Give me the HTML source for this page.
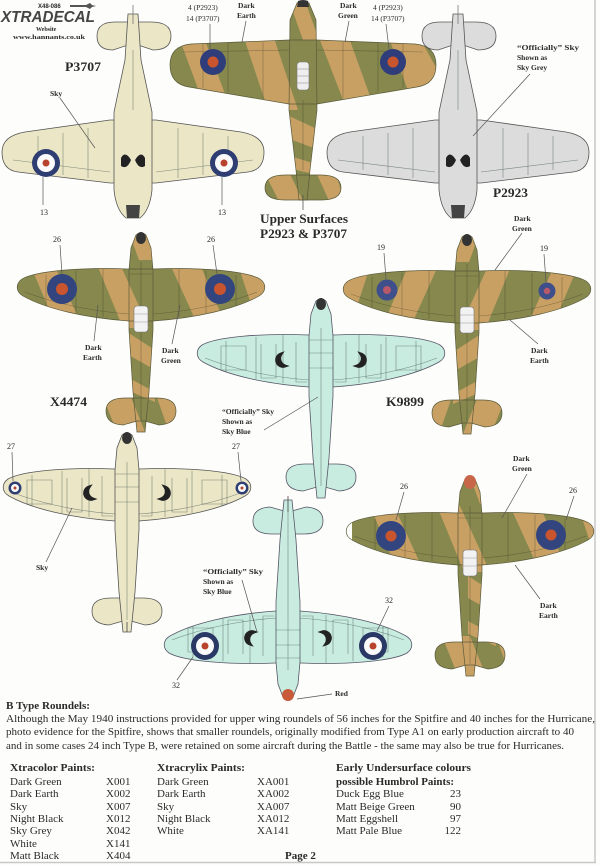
<!DOCTYPE html>
<html><head><meta charset="utf-8"><style>
html,body{margin:0;padding:0;background:#fdfdfb;}
svg{display:block}
text{font-family:"Liberation Serif",serif;fill:#2a2a2a}
.l{font-size:7.5px;font-weight:bold}
.n{font-size:8px}
.t{font-size:12.5px;font-weight:bold}
.p{font-size:10.5px}
.q{font-size:11px}
.ld{stroke:#555;stroke-width:0.7;fill:none}
.pl{stroke:rgba(50,50,30,0.45);stroke-width:0.6;fill:none}
.ul{stroke:rgba(40,60,60,0.55);stroke-width:0.6;fill:none}
</style></head><body>
<svg width="600" height="865" viewBox="0 0 600 865" xmlns="http://www.w3.org/2000/svg">
<defs>
<path id="sw" d="M-12,37 C-60,35 -105,39 -119,47 C-126,52 -125,60 -118,64 C-95,77 -55,86 -12,89 L12,89 C55,86 95,77 118,64 C125,60 126,52 119,47 C105,39 60,35 12,37 Z"/>
<path id="sf" d="M-5,3 Q0,-1 5,3 L10,16 L12,38 L12,98 L8,160 L4,200 L-4,200 L-8,160 L-12,98 L-12,38 L-10,16 Z"/>
<path id="st" d="M-35,179 Q-35,166 -16,166 L16,166 Q35,166 35,179 Q35,192 18,193 L4,189 L-4,189 L-18,193 Q-35,192 -35,179 Z"/>
<path id="hw" d="M-23,120 L-108,132 Q-131,136 -131,152 Q-131,170 -115,172 L-23,183 L23,183 L115,172 Q131,170 131,152 Q131,136 108,132 L23,120 Z"/>
<path id="hf" d="M-5,14 L5,14 L8,60 L19,112 L19,190 Q17,210 7,218 L-7,218 Q-17,210 -19,190 L-19,112 L-8,60 Z"/>
<path id="ht" d="M-36,36 Q-36,22 -18,22 L18,22 Q38,22 38,36 Q38,50 20,50 L5,45 L-5,45 L-20,50 Q-36,50 -36,36 Z"/>
<path id="cw" d="M-14,40 L-112,44 Q-133,46 -133,65 Q-133,84 -114,87 L-14,104 L14,104 L114,87 Q133,84 133,65 Q133,46 112,44 L14,40 Z"/>
<path id="cf" d="M-6,3 Q0,0 6,3 L13,20 L14,110 L7,170 L4,200 L-4,200 L-7,170 L-14,110 L-13,20 Z"/>
<path id="ct" d="M-38,188 Q-38,175 -18,175 L18,175 Q38,175 38,188 Q38,200 18,200 L-18,200 Q-38,200 -38,188 Z"/>
<clipPath id="clS"><use href="#sw"/><use href="#sf"/><use href="#st"/></clipPath>
<clipPath id="clC"><use href="#cw"/><use href="#cf"/><use href="#ct"/></clipPath>
<g id="camoS">
<rect x="-130" y="-5" width="260" height="210" fill="#86884e"/>
<g fill="#c9a064">
<polygon points="-112,30 -88,30 -58,96 -84,96"/>
<polygon points="-45,30 -22,30 8,96 -18,96"/>
<polygon points="28,30 58,30 86,96 58,96"/>
<polygon points="96,30 130,30 130,96 118,96"/>
<polygon points="-14,-5 2,-5 14,28 -2,28"/>
<polygon points="-14,100 14,118 14,138 -14,122"/>
<polygon points="-14,145 14,160 14,170 -14,158"/>
<polygon points="-40,160 -12,160 4,200 -24,200"/>
<polygon points="14,160 40,160 40,200 28,200"/>
</g>
</g>
<g id="camoC">
<rect x="-140" y="-5" width="280" height="210" fill="#86884e"/>
<g fill="#c9a064">
<polygon points="-125,35 -100,35 -72,110 -97,110"/>
<polygon points="-60,35 -30,35 -5,110 -35,110"/>
<polygon points="15,35 45,35 72,110 44,110"/>
<polygon points="85,35 115,35 140,80 140,110 112,110"/>
<polygon points="-16,-5 0,-5 16,40 0,40"/>
<polygon points="-16,115 16,130 16,150 -16,138"/>
<polygon points="-16,155 16,165 16,175 -16,168"/>
<polygon points="-40,170 -15,170 2,205 -22,205"/>
<polygon points="12,170 32,170 42,205 28,205"/>
</g>
</g>
<g id="panS">
<path d="M-116,60 C-80,74 -40,80 -12,82 M116,60 C80,74 40,80 12,82 M-95,43 L-95,74 M-65,39 L-65,81 M-38,37 L-38,85 M38,37 L38,85 M65,39 L65,81 M95,43 L95,74 M0,30 L0,188 M-12,42 L12,42"/>
</g>
<g id="panH">
<path d="M-120,160 L-23,172 M120,160 L23,172 M-95,136 L-95,170 M-70,133 L-70,175 M-45,128 L-45,178 M45,128 L45,178 M70,133 L70,175 M95,136 L95,170 M0,50 L0,110"/>
</g>
<g id="panC">
<path d="M-120,52 L-14,50 M120,52 L14,50 M-100,44 L-100,88 M-75,43 L-75,92 M-40,42 L-40,98 M40,42 L40,98 M75,43 L75,92 M100,44 L100,88 M0,100 L0,170"/>
</g>
</defs>

<!-- page border -->
<line x1="595" y1="0" x2="595" y2="863" stroke="#c8c8c8" stroke-width="1.5"/>
<line x1="0" y1="862.5" x2="596" y2="862.5" stroke="#c8c8c8" stroke-width="1.5"/>

<!-- header logo -->
<text x="38" y="8" style="font-size:6px;font-weight:bold;font-family:'Liberation Sans',sans-serif">X48-086</text>
<path d="M70,5 L86,5 L90,3 L92,5 L96,6 L92,7 L90,9 L86,7 L70,7 Z" fill="#555"/>
<text x="1" y="22" textLength="94" lengthAdjust="spacingAndGlyphs" style="font-size:16px;font-weight:bold;font-style:italic;font-family:'Liberation Sans',sans-serif;fill:#444">XTRADECAL</text>
<text x="36" y="31" style="font-size:6px;font-weight:bold">Website</text>
<text x="13" y="39" textLength="72" lengthAdjust="spacingAndGlyphs" style="font-size:6px;font-weight:bold">www.hannants.co.uk</text>

<!-- P3707 Hurricane underside (Sky) -->
<g transform="translate(133,0)" stroke="#555" stroke-width="0.8">
<use href="#ht" fill="#ebe6c6"/>
<use href="#hw" fill="#ebe6c6"/>
<use href="#hf" fill="#ebe6c6"/>
<g class="ul"><use href="#panH"/></g>
<path d="M-7,205 L7,205 L6,218 L-6,218 Z" fill="#444" stroke="none"/>
<path d="M-12,158 Q-8,150 -2,160 Q-6,170 -12,166 Z M12,158 Q8,150 2,160 Q6,170 12,166 Z" fill="#222" stroke="none"/>
<line x1="0" y1="5" x2="0" y2="24" stroke="#777"/>
</g>
<circle cx="46" cy="163" r="14" fill="#2f3e72"/><circle cx="46" cy="163" r="9" fill="#fafafa"/><circle cx="46" cy="163" r="3.5" fill="#b8432c"/>
<circle cx="224" cy="163" r="14" fill="#2f3e72"/><circle cx="224" cy="163" r="9" fill="#fafafa"/><circle cx="224" cy="163" r="3.5" fill="#b8432c"/>
<text x="65" y="71" class="t" textLength="36" lengthAdjust="spacingAndGlyphs">P3707</text>
<text x="50" y="96" class="l">Sky</text>
<line x1="60" y1="98" x2="95" y2="148" class="ld"/>
<line x1="43" y1="177" x2="43" y2="205" class="ld"/>
<line x1="222" y1="177" x2="222" y2="205" class="ld"/>
<text x="40" y="215" class="n">13</text>
<text x="218" y="215" class="n">13</text>

<!-- Top camo Hurricane -->
<g transform="translate(303,0)">
<g clip-path="url(#clC)"><use href="#camoC"/></g>
<g class="pl"><use href="#panC"/></g>
<g fill="none" stroke="#5a5a3a" stroke-width="0.7"><use href="#ct"/><use href="#cw"/><use href="#cf"/></g>
<path d="M-5,1 Q0,-1 5,1 L6,7 L-6,7 Z" fill="#333"/>
<rect x="-6" y="62" width="12" height="28" rx="3" fill="#eeeeee" stroke="#777" stroke-width="0.6"/>
<path d="M-6,69 L6,69 M-6,76 L6,76 M-6,83 L6,83" stroke="#888" stroke-width="0.6"/>
<line x1="0" y1="195" x2="0" y2="210" stroke="#555" stroke-width="0.8"/>
</g>
<circle cx="213" cy="62" r="13" fill="#2f3e7a"/><circle cx="213" cy="62" r="5.5" fill="#c8552e"/>
<circle cx="393" cy="62" r="13" fill="#2f3e7a"/><circle cx="393" cy="62" r="5.5" fill="#c8552e"/>
<text x="188" y="10" class="l" style="font-weight:normal">4 (P2923)</text>
<text x="186" y="21" class="l" style="font-weight:normal">14 (P3707)</text>
<text x="238" y="8" class="l">Dark</text>
<text x="237" y="18" class="l">Earth</text>
<text x="340" y="8" class="l">Dark</text>
<text x="338" y="18" class="l">Green</text>
<text x="373" y="10" class="l" style="font-weight:normal">4 (P2923)</text>
<text x="371" y="21" class="l" style="font-weight:normal">14 (P3707)</text>
<line x1="210" y1="24" x2="210" y2="49" class="ld"/>
<line x1="246" y1="21" x2="242" y2="42" class="ld"/>
<line x1="349" y1="21" x2="345" y2="42" class="ld"/>
<line x1="386" y1="24" x2="389" y2="49" class="ld"/>
<text x="260" y="223" class="t" textLength="88" lengthAdjust="spacingAndGlyphs">Upper Surfaces</text>
<text x="260" y="238" class="t" textLength="87" lengthAdjust="spacingAndGlyphs">P2923 &amp; P3707</text>

<!-- P2923 Hurricane underside (Sky Grey) -->
<g transform="translate(458,0)" stroke="#555" stroke-width="0.8">
<use href="#ht" fill="#dcdcdc"/>
<use href="#hw" fill="#dcdcdc"/>
<use href="#hf" fill="#dcdcdc"/>
<g class="ul"><use href="#panH"/></g>
<path d="M-7,205 L7,205 L6,218 L-6,218 Z" fill="#444" stroke="none"/>
<path d="M-12,158 Q-8,150 -2,160 Q-6,170 -12,166 Z M12,158 Q8,150 2,160 Q6,170 12,166 Z" fill="#222" stroke="none"/>
<line x1="0" y1="5" x2="0" y2="24" stroke="#777"/>
</g>
<text x="517" y="50" class="l" textLength="62" lengthAdjust="spacingAndGlyphs">“Officially” Sky</text>
<text x="517" y="60" class="l">Shown as</text>
<text x="517" y="70" class="l">Sky Grey</text>
<line x1="530" y1="74" x2="473" y2="136" class="ld"/>
<text x="493" y="197" class="t" textLength="35" lengthAdjust="spacingAndGlyphs">P2923</text>

<!-- X4474 Spitfire camo -->
<g transform="translate(141,232)">
<g clip-path="url(#clS)"><use href="#camoS"/></g>
<g class="pl"><use href="#panS"/></g>
<g fill="none" stroke="#5a5a3a" stroke-width="0.7"><use href="#st"/><use href="#sw"/><use href="#sf"/></g>
<ellipse cx="0" cy="6" rx="5" ry="6" fill="#333"/>
<rect x="-7" y="74" width="14" height="26" rx="3" fill="#f2f2f2" stroke="#777" stroke-width="0.6"/>
<path d="M-7,82 L7,82 M-7,90 L7,90" stroke="#999" stroke-width="0.6"/>
</g>
<circle cx="62" cy="289" r="15" fill="#33457f"/><circle cx="62" cy="289" r="6" fill="#c8552e"/>
<circle cx="220" cy="289" r="15" fill="#33457f"/><circle cx="220" cy="289" r="6" fill="#c8552e"/>
<text x="53" y="242" class="n">26</text>
<text x="207" y="242" class="n">26</text>
<line x1="60" y1="245" x2="62" y2="274" class="ld"/>
<line x1="213" y1="245" x2="217" y2="274" class="ld"/>
<text x="85" y="350" class="l">Dark</text>
<text x="83" y="360" class="l">Earth</text>
<line x1="94" y1="341" x2="98" y2="305" class="ld"/>
<text x="162" y="353" class="l">Dark</text>
<text x="161" y="363" class="l">Green</text>
<line x1="172" y1="344" x2="180" y2="305" class="ld"/>
<text x="50" y="406" class="t" textLength="37" lengthAdjust="spacingAndGlyphs">X4474</text>

<!-- Right camo Spitfire (19) -->
<g transform="translate(467,234)">
<g clip-path="url(#clS)"><g transform="scale(-1,1)"><use href="#camoS"/></g></g>
<g class="pl"><use href="#panS"/></g>
<g fill="none" stroke="#5a5a3a" stroke-width="0.7"><use href="#st"/><use href="#sw"/><use href="#sf"/></g>
<ellipse cx="0" cy="6" rx="5" ry="6" fill="#333"/>
<rect x="-7" y="73" width="14" height="26" rx="3" fill="#f2f2f2" stroke="#777" stroke-width="0.6"/>
<path d="M-7,81 L7,81 M-7,89 L7,89" stroke="#999" stroke-width="0.6"/>
</g>
<circle cx="387" cy="290" r="10.5" fill="#3e4f8c"/><circle cx="387" cy="290" r="4" fill="#b85868"/>
<circle cx="547" cy="291" r="8.5" fill="#3e4f8c"/><circle cx="547" cy="291" r="3.2" fill="#b85868"/>
<text x="377" y="250" class="n">19</text>
<text x="540" y="251" class="n">19</text>
<line x1="384" y1="253" x2="386" y2="279" class="ld"/>
<line x1="544" y1="254" x2="546" y2="282" class="ld"/>
<text x="514" y="221" class="l">Dark</text>
<text x="512" y="231" class="l">Green</text>
<line x1="522" y1="233" x2="495" y2="270" class="ld"/>
<text x="531" y="353" class="l">Dark</text>
<text x="530" y="363" class="l">Earth</text>
<line x1="538" y1="344" x2="510" y2="320" class="ld"/>

<!-- K9899 Spitfire underside (Sky Blue) -->
<g transform="translate(321,298)" stroke="#556" stroke-width="0.8">
<use href="#st" fill="#c9ece0"/>
<use href="#sw" fill="#c9ece0"/>
<use href="#sf" fill="#c9ece0"/>
<g class="ul"><use href="#panS"/>
<path d="M-100,48 L-100,72 L-75,72 L-75,48 Z M100,48 L100,72 L75,72 L75,48 Z M-60,46 L-60,80 L-45,80 L-45,46 M60,46 L60,80 L45,80 L45,46 M-25,44 L-25,84 L-14,84 M25,44 L25,84 L14,84 M-12,55 L12,55 M-12,70 L12,70"/></g>
<ellipse cx="0" cy="6" rx="5" ry="6" fill="#333" stroke="none"/>
<path d="M-40,56 A6,6 0 0 0 -36,68 A8,8 0 0 1 -40,56 Z M40,56 A6,6 0 0 1 36,68 A8,8 0 0 0 40,56 Z" fill="#222" stroke="#222" stroke-width="3"/>
</g>
<text x="222" y="414" class="l" textLength="52" lengthAdjust="spacingAndGlyphs">“Officially” Sky</text>
<text x="222" y="424" class="l">Shown as</text>
<text x="222" y="434" class="l">Sky Blue</text>
<line x1="264" y1="430" x2="318" y2="397" class="ld"/>
<text x="386" y="406" class="t" textLength="38" lengthAdjust="spacingAndGlyphs">K9899</text>

<!-- Sky Spitfire underside (bottom-left) -->
<g transform="translate(127,432)" stroke="#555" stroke-width="0.8">
<use href="#st" fill="#ebe6c6"/>
<use href="#sw" fill="#ebe6c6"/>
<use href="#sf" fill="#ebe6c6"/>
<g class="ul"><use href="#panS"/>
<path d="M-100,48 L-100,72 L-75,72 L-75,48 Z M100,48 L100,72 L75,72 L75,48 Z M-60,46 L-60,80 L-45,80 L-45,46 M60,46 L60,80 L45,80 L45,46 M-25,44 L-25,84 L-14,84 M25,44 L25,84 L14,84 M-12,55 L12,55 M-12,70 L12,70"/></g>
<ellipse cx="0" cy="6" rx="5" ry="6" fill="#333" stroke="none"/>
<path d="M-38,55 A6,6 0 0 0 -34,67 A8,8 0 0 1 -38,55 Z M38,55 A6,6 0 0 1 34,67 A8,8 0 0 0 38,55 Z" fill="#222" stroke="#222" stroke-width="3"/>
<line x1="0" y1="190" x2="0" y2="200" stroke="#444"/>
</g>
<circle cx="15" cy="488" r="6.5" fill="#2f3e72"/><circle cx="15" cy="488" r="4" fill="#fafafa"/><circle cx="15" cy="488" r="1.5" fill="#b8432c"/>
<circle cx="242" cy="488" r="6.5" fill="#2f3e72"/><circle cx="242" cy="488" r="4" fill="#fafafa"/><circle cx="242" cy="488" r="1.5" fill="#b8432c"/>
<text x="7" y="449" class="n">27</text>
<text x="232" y="449" class="n">27</text>
<line x1="12" y1="452" x2="13" y2="481" class="ld"/>
<line x1="238" y1="452" x2="241" y2="481" class="ld"/>
<text x="36" y="570" class="l">Sky</text>
<line x1="46" y1="562" x2="72" y2="508" class="ld"/>

<!-- Bottom-centre Spitfire underside (tail up) -->
<g transform="translate(288,700) rotate(180)" stroke="#556" stroke-width="0.8">
<use href="#st" fill="#c9ece0"/>
<use href="#sw" fill="#c9ece0"/>
<use href="#sf" fill="#c9ece0"/>
<g class="ul"><use href="#panS"/>
<path d="M-100,48 L-100,72 L-75,72 L-75,48 Z M100,48 L100,72 L75,72 L75,48 Z M-60,46 L-60,80 L-45,80 L-45,46 M60,46 L60,80 L45,80 L45,46 M-25,44 L-25,84 L-14,84 M25,44 L25,84 L14,84 M-12,55 L12,55 M-12,70 L12,70"/></g>
<ellipse cx="0" cy="5" rx="6" ry="6" fill="#c85a3a" stroke="none"/>
<path d="M-38,56 A6,6 0 0 0 -34,68 A8,8 0 0 1 -38,56 Z M38,56 A6,6 0 0 1 34,68 A8,8 0 0 0 38,56 Z" fill="#222" stroke="#222" stroke-width="3"/>
<line x1="0" y1="188" x2="0" y2="204" stroke="#444"/>
</g>
<circle cx="205" cy="646" r="14" fill="#2a3866"/><circle cx="205" cy="646" r="9" fill="#fafafa"/><circle cx="205" cy="646" r="3.5" fill="#b8432c"/>
<circle cx="373" cy="646" r="14" fill="#2a3866"/><circle cx="373" cy="646" r="9" fill="#fafafa"/><circle cx="373" cy="646" r="3.5" fill="#b8432c"/>
<text x="203" y="574" class="l" textLength="60" lengthAdjust="spacingAndGlyphs">“Officially” Sky</text>
<text x="203" y="584" class="l">Shown as</text>
<text x="203" y="594" class="l">Sky Blue</text>
<line x1="242" y1="580" x2="257" y2="632" class="ld"/>
<text x="172" y="688" class="n">32</text>
<line x1="177" y1="680" x2="193" y2="657" class="ld"/>
<text x="385" y="603" class="n">32</text>
<line x1="389" y1="606" x2="377" y2="631" class="ld"/>
<text x="335" y="696" class="l">Red</text>
<line x1="332" y1="694" x2="297" y2="699" class="ld"/>

<!-- Bottom-right camo Spitfire (26) -->
<g transform="translate(470,476)">
<g clip-path="url(#clS)"><g transform="translate(12,0)"><use href="#camoS"/></g></g>
<g class="pl"><use href="#panS"/></g>
<g fill="none" stroke="#5a5a3a" stroke-width="0.7"><use href="#st"/><use href="#sw"/><use href="#sf"/></g>
<ellipse cx="0" cy="6" rx="6" ry="7" fill="#c8664a"/>
<rect x="-7" y="74" width="14" height="26" rx="3" fill="#f2f2f2" stroke="#777" stroke-width="0.6"/>
<path d="M-7,82 L7,82 M-7,90 L7,90" stroke="#999" stroke-width="0.6"/>
</g>
<circle cx="391" cy="536" r="15" fill="#33457f"/><circle cx="391" cy="536" r="5.5" fill="#c8552e"/>
<circle cx="551" cy="535" r="15" fill="#33457f"/><circle cx="551" cy="535" r="5.5" fill="#c8552e"/>
<text x="400" y="489" class="n">26</text>
<text x="569" y="493" class="n">26</text>
<line x1="404" y1="492" x2="396" y2="520" class="ld"/>
<line x1="574" y1="496" x2="566" y2="520" class="ld"/>
<text x="513" y="461" class="l">Dark</text>
<text x="512" y="471" class="l">Green</text>
<line x1="527" y1="474" x2="502" y2="518" class="ld"/>
<text x="540" y="608" class="l">Dark</text>
<text x="539" y="618" class="l">Earth</text>
<line x1="540" y1="599" x2="515" y2="565" class="ld"/>

<!-- Text block -->
<text x="6" y="709" class="q" style="font-weight:bold" textLength="84" lengthAdjust="spacingAndGlyphs">B Type Roundels:</text>
<text x="6" y="722" class="p" textLength="589" lengthAdjust="spacingAndGlyphs">Although the May 1940 instructions provided for upper wing roundels of 56 inches for the Spitfire and 40 inches for the Hurricane,</text>
<text x="6" y="735" class="p" textLength="568" lengthAdjust="spacingAndGlyphs">photo evidence for the Spitfire, shows that smaller roundels, originally modified from Type A1 on early production aircraft to 40</text>
<text x="6" y="749" class="p" textLength="558" lengthAdjust="spacingAndGlyphs">and in some cases 24 inch Type B, were retained on some aircraft during the Battle - the same may also be true for Hurricanes.</text>

<g class="q">
<text x="10" y="771" style="font-weight:bold" textLength="85" lengthAdjust="spacingAndGlyphs">Xtracolor Paints:</text>
<text x="10" y="785">Dark Green</text><text x="106" y="785">X001</text>
<text x="10" y="797">Dark Earth</text><text x="106" y="797">X002</text>
<text x="10" y="810">Sky</text><text x="106" y="810">X007</text>
<text x="10" y="822">Night Black</text><text x="106" y="822">X012</text>
<text x="10" y="834">Sky Grey</text><text x="106" y="834">X042</text>
<text x="10" y="847">White</text><text x="106" y="847">X141</text>
<text x="10" y="859">Matt Black</text><text x="106" y="859">X404</text>

<text x="157" y="771" style="font-weight:bold" textLength="88" lengthAdjust="spacingAndGlyphs">Xtracrylix Paints:</text>
<text x="157" y="785">Dark Green</text><text x="257" y="785">XA001</text>
<text x="157" y="797">Dark Earth</text><text x="257" y="797">XA002</text>
<text x="157" y="810">Sky</text><text x="257" y="810">XA007</text>
<text x="157" y="822">Night Black</text><text x="257" y="822">XA012</text>
<text x="157" y="834">White</text><text x="257" y="834">XA141</text>

<text x="336" y="771" style="font-weight:bold" textLength="135" lengthAdjust="spacingAndGlyphs">Early Undersurface colours</text>
<text x="336" y="785" style="font-weight:bold" textLength="118" lengthAdjust="spacingAndGlyphs">possible Humbrol Paints:</text>
<text x="336" y="797">Duck Egg Blue</text><text x="461" y="797" text-anchor="end">23</text>
<text x="336" y="810">Matt Beige Green</text><text x="461" y="810" text-anchor="end">90</text>
<text x="336" y="822">Matt Eggshell</text><text x="461" y="822" text-anchor="end">97</text>
<text x="336" y="834">Matt Pale Blue</text><text x="461" y="834" text-anchor="end">122</text>

<text x="285" y="859" style="font-weight:bold">Page 2</text>
</g>
</svg>
</body></html>
